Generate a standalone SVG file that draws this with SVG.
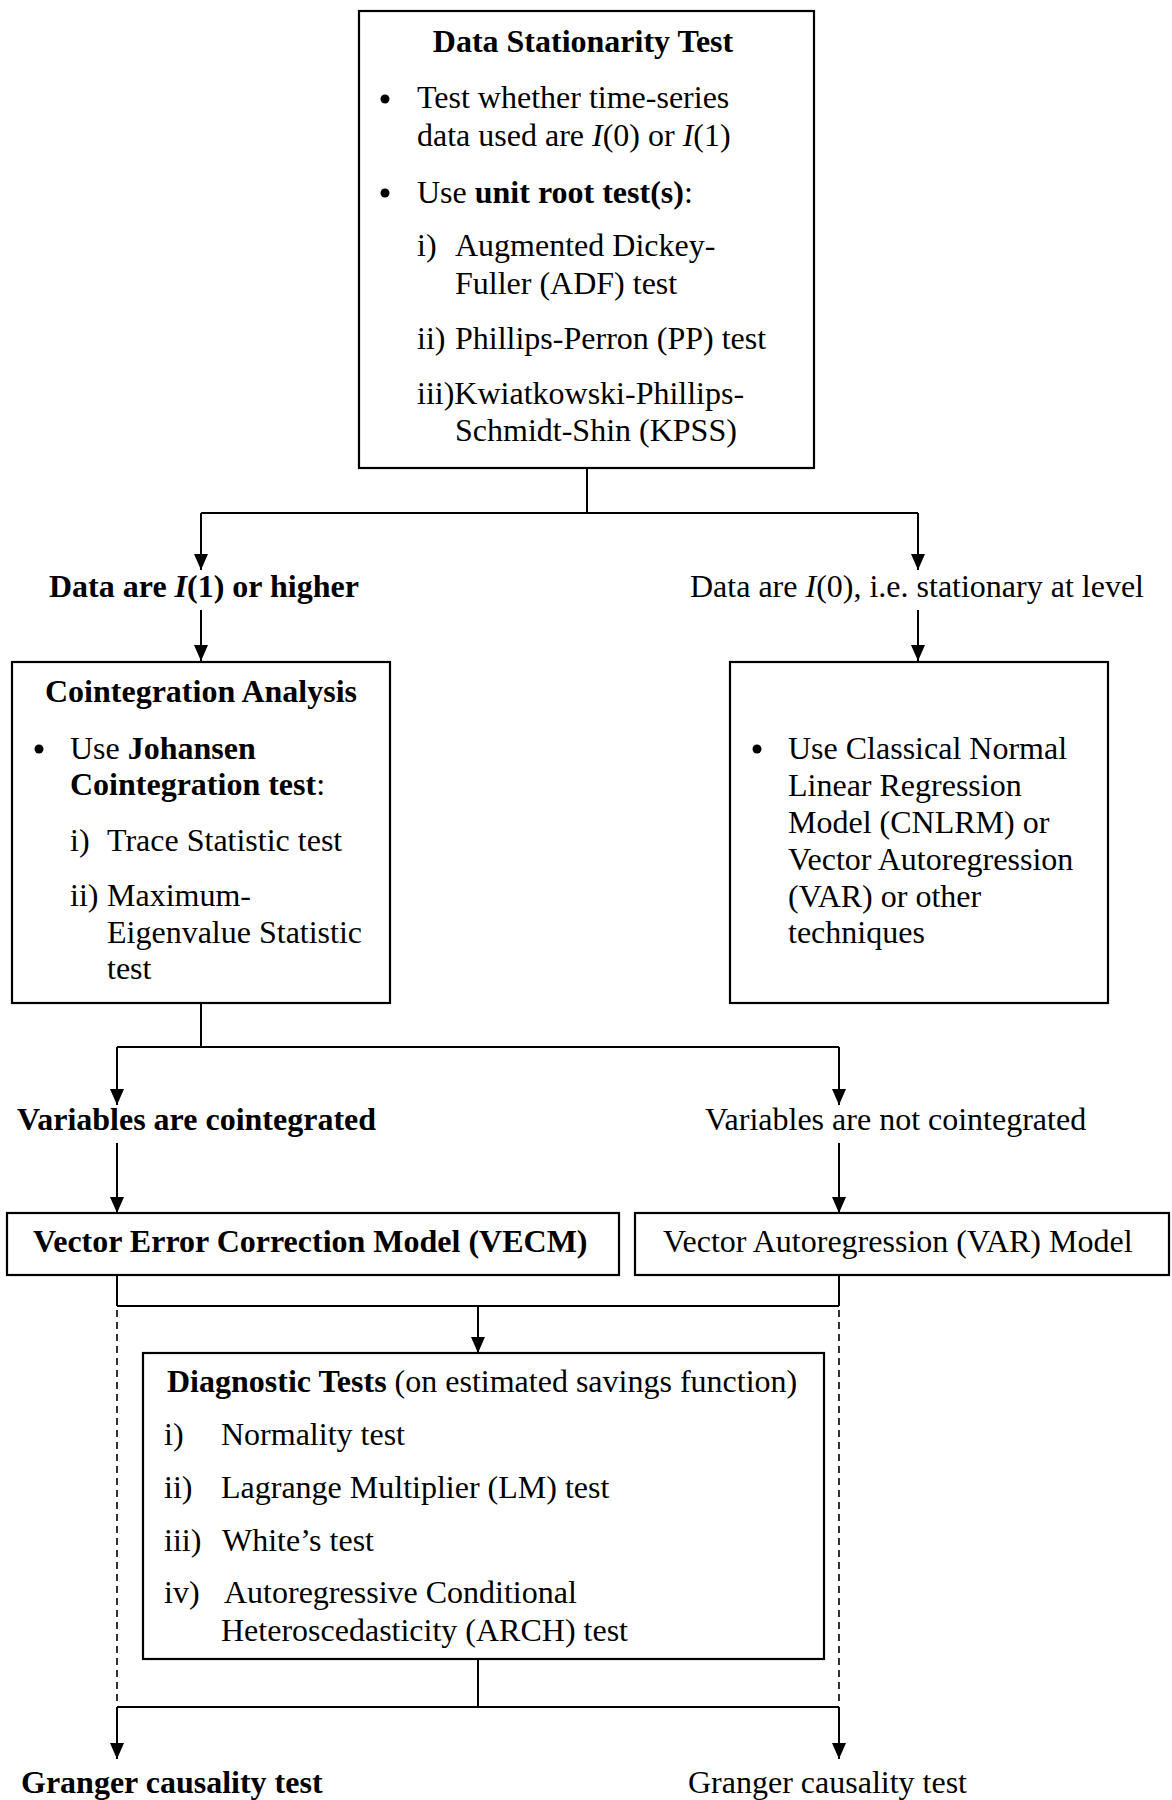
<svg xmlns="http://www.w3.org/2000/svg" width="1172" height="1800" viewBox="0 0 1172 1800">
<defs>
<marker id="ah" markerUnits="userSpaceOnUse" markerWidth="16" markerHeight="14" refX="16" refY="7" orient="auto">
<path d="M0,0 L16,7 L0,14 z" fill="#000"/>
</marker>
<style>
text{font-family:"Liberation Serif","Times New Roman",serif;font-size:32px;fill:#000}
.b{font-weight:bold}
.i{font-style:italic}
.box{fill:#fff;stroke:#000;stroke-width:2.2}
.ln{fill:none;stroke:#000;stroke-width:2}
.ar{fill:none;stroke:#000;stroke-width:2;marker-end:url(#ah)}
.dash{fill:none;stroke:#000;stroke-width:1.6;stroke-dasharray:7 5}
.dot{fill:#000}
</style>
</defs>
<rect width="1172" height="1800" fill="#fff"/>

<g id="connectors">
<path class="ln" d="M587,468 V513"/>
<path class="ln" d="M201,513 H918"/>
<path class="ar" d="M201,513 V570"/>
<path class="ar" d="M918,513 V570"/>
<path class="ar" d="M201,610 V661"/>
<path class="ar" d="M918,610 V661"/>
<path class="ln" d="M201,1003 V1047"/>
<path class="ln" d="M117,1047 H839"/>
<path class="ar" d="M117,1047 V1105"/>
<path class="ar" d="M839,1047 V1105"/>
<path class="ar" d="M117,1143 V1213"/>
<path class="ar" d="M839,1143 V1213"/>
<path class="ln" d="M117,1275 V1306"/>
<path class="ln" d="M839,1275 V1306"/>
<path class="ln" d="M117,1306 H839"/>
<path class="ar" d="M478,1306 V1353"/>
<path class="dash" d="M117,1310 V1705"/>
<path class="dash" d="M839,1310 V1705"/>
<path class="ln" d="M478,1659 V1707"/>
<path class="ln" d="M117,1707 H839"/>
<path class="ar" d="M117,1707 V1759"/>
<path class="ar" d="M839,1707 V1759"/>
</g>

<g id="stationarity">
<rect class="box" x="359" y="11" width="455" height="457"/>
<text class="b" x="583" y="52" text-anchor="middle">Data Stationarity Test</text>
<circle class="dot" cx="385" cy="99" r="4.5"/>
<text x="417" y="108">Test whether time-series</text>
<text x="417" y="146">data used are <tspan class="i">I</tspan>(0) or <tspan class="i">I</tspan>(1)</text>
<circle class="dot" cx="385" cy="193" r="4.5"/>
<text x="417" y="203">Use <tspan class="b">unit root test(s)</tspan>:</text>
<text x="417" y="256">i)</text>
<text x="455" y="256">Augmented Dickey-</text>
<text x="455" y="294">Fuller (ADF) test</text>
<text x="417" y="349">ii)</text>
<text x="455" y="349">Phillips-Perron (PP) test</text>
<text x="417" y="404">iii)Kwiatkowski-Phillips-</text>
<text x="455" y="441">Schmidt-Shin (KPSS)</text>
</g>

<g id="label-i1">
<text class="b" x="49" y="597">Data are <tspan class="i">I</tspan>(1) or higher</text>
</g>

<g id="label-i0">
<text x="690" y="597">Data are <tspan class="i">I</tspan>(0), i.e. stationary at level</text>
</g>

<g id="cointegration">
<rect class="box" x="12" y="662" width="378" height="341"/>
<text class="b" x="201" y="702" text-anchor="middle">Cointegration Analysis</text>
<circle class="dot" cx="39" cy="749" r="4.5"/>
<text x="70" y="759">Use <tspan class="b">Johansen</tspan></text>
<text x="70" y="795"><tspan class="b">Cointegration test</tspan>:</text>
<text x="70" y="851">i)</text>
<text x="107" y="851">Trace Statistic test</text>
<text x="70" y="906">ii)</text>
<text x="107" y="906">Maximum-</text>
<text x="107" y="943">Eigenvalue Statistic</text>
<text x="107" y="979">test</text>
</g>

<g id="cnlrm">
<rect class="box" x="730" y="662" width="378" height="341"/>
<circle class="dot" cx="757" cy="749" r="4.5"/>
<text x="788" y="759">Use Classical Normal</text>
<text x="788" y="796">Linear Regression</text>
<text x="788" y="833">Model (CNLRM) or</text>
<text x="788" y="870">Vector Autoregression</text>
<text x="788" y="907">(VAR) or other</text>
<text x="788" y="943">techniques</text>
</g>

<g id="label-coint">
<text class="b" x="17" y="1130">Variables are cointegrated</text>
</g>

<g id="label-notcoint">
<text x="705" y="1130">Variables are not cointegrated</text>
</g>

<g id="vecm">
<rect class="box" x="7" y="1213" width="612" height="62"/>
<text class="b" x="33" y="1252">Vector Error Correction Model (VECM)</text>
</g>

<g id="var">
<rect class="box" x="635" y="1213" width="534" height="62"/>
<text x="663" y="1252">Vector Autoregression (VAR) Model</text>
</g>

<g id="diagnostic">
<rect class="box" x="143" y="1353" width="681" height="306"/>
<text x="167" y="1392"><tspan class="b">Diagnostic Tests</tspan> (on estimated savings function)</text>
<text x="164" y="1445">i)</text>
<text x="221" y="1445">Normality test</text>
<text x="164" y="1498">ii)</text>
<text x="221" y="1498">Lagrange Multiplier (LM) test</text>
<text x="164" y="1551">iii)</text>
<text x="222" y="1551">White’s test</text>
<text x="164" y="1603">iv)</text>
<text x="224" y="1603">Autoregressive Conditional</text>
<text x="221" y="1641">Heteroscedasticity (ARCH) test</text>
</g>

<g id="granger-left">
<text class="b" x="21" y="1793">Granger causality test</text>
</g>

<g id="granger-right">
<text x="688" y="1793">Granger causality test</text>
</g>
</svg>
